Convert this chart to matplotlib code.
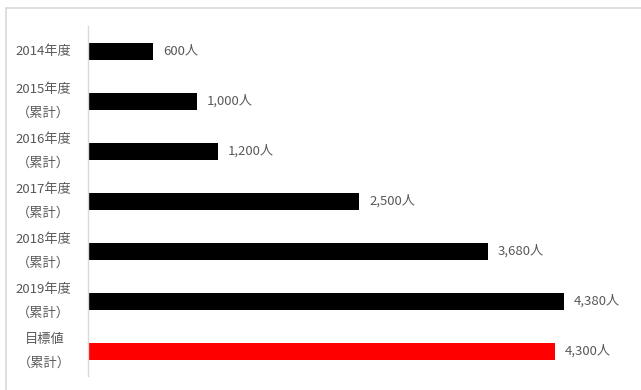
import matplotlib.pyplot as plt
from matplotlib.lines import Line2D

plt.rcParams['font.family'] = ['Noto Sans CJK JP', 'DejaVu Sans']

categories = ["2014年度", "2015年度\n（累計）", "2016年度\n（累計）", "2017年度\n（累計）",
              "2018年度\n（累計）", "2019年度\n（累計）", "目標値\n（累計）"]
values = [600, 1000, 1200, 2500, 3680, 4380, 4300]
colors = ["#000000"] * 6 + ["#ff0000"]

W, H = 641, 390
fig = plt.figure(figsize=(W / 100, H / 100), dpi=100)
ax = fig.add_axes([88 / W, (H - 376) / H, (631 - 88) / W, 350 / H])

ypos = list(range(len(categories)))
bars = ax.barh(ypos, values, height=0.34, color=colors)
ax.bar_label(bars, labels=[f"{v:,}人" for v in values], padding=7,
             fontsize=9.5, color="#595959")

ax.set_ylim(len(categories) - 0.5, -0.5)
ax.set_xlim(0, 5000)
ax.set_yticks(ypos)
ax.set_yticklabels(categories, fontsize=9.5, color="#595959", va="center",
                   linespacing=2.1, multialignment="center")
ax.tick_params(axis="y", length=0, pad=12)
ax.set_xticks([])
for s in ["top", "right", "bottom"]:
    ax.spines[s].set_visible(False)
ax.spines["left"].set_color("#d9d9d9")
ax.spines["left"].set_linewidth(1)

# outer chart frame (partly cut off at right and bottom)
fig.add_artist(Line2D([6 / W, 6 / W], [0, (H - 8) / H], color="#d9d9d9", lw=1.2))
fig.add_artist(Line2D([6 / W, 1], [(H - 8) / H, (H - 8) / H], color="#d9d9d9", lw=1.2))

fig.savefig("out.png", dpi=100)
